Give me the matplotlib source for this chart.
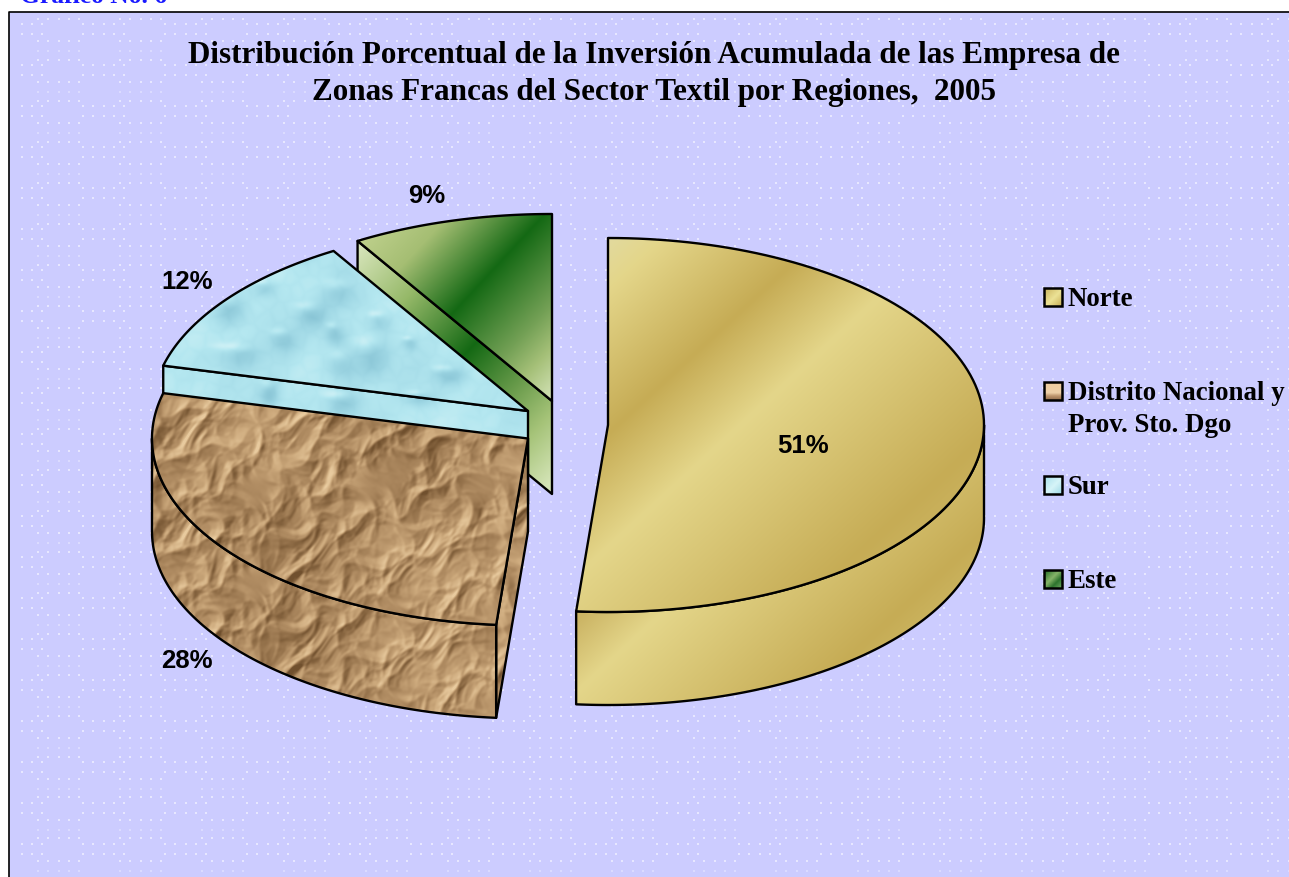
"""
3D looking exploded pie of textile free zone investment by region.
"""
import numpy as np
import matplotlib
matplotlib.use('Agg')
import matplotlib.pyplot as plt
from matplotlib.patches import Polygon, Rectangle

regiones = ['Norte', 'Distrito Nacional y\nProv. Sto. Dgo', 'Sur', 'Este']
shares = [51.35, 27.55, 12.45, 8.65]   # percent, clockwise from 12 o'clock
pct_labels = ['51%', '28%', '12%', '9%']
titulo = ('Distribución Porcentual de la Inversión Acumulada de las Empresa de\n'
          'Zonas Francas del Sector Textil por Regiones,  2005')

W, H = 1289, 878
RX, RY, DEPTH = 376, 187, 93
BG = '#ccccff'

# apex of each exploded slice, in pixels
apex = [(608, 426), (528, 439.5), (528, 412), (552, 402)]
label_pos = [(803, 446), (187, 661), (187, 282), (427, 196)]
legend_y = [298, 392, 486, 580]

XX, YY = np.meshgrid(np.arange(W) + 0.5, np.arange(H) + 0.5)


def hex_stops(s, stops):
    # piecewise colour ramp over the scalar field s
    pos = [p for p, c in stops]
    img = np.zeros(s.shape + (3,))
    for i in range(3):
        img[..., i] = np.interp(s, pos, [c[i] / 255 for p, c in stops])
    return img


def norte_textures():
    s = 0.678 * XX + 0.735 * YY
    dark = (198, 172, 85)
    light = (228, 214, 138)
    top = hex_stops(s, [(590, (226, 218, 158)), (625, light), (732, dark), (815, light),
                        (990, dark), (1100, (212, 192, 112))])
    side = hex_stops(s, [(847, (203, 180, 100)), (900, light), (1060, dark),
                         (1150, (214, 196, 115))])
    return top, side


def este_textures():
    s = 0.73 * XX + 0.68 * YY
    dark = (20, 105, 20)
    top = hex_stops(s, [(427, (190, 208, 140)), (475, (165, 190, 115)), (544, dark),
                        (610, (115, 160, 85)), (640, (165, 192, 120)),
                        (672, (208, 224, 178))])
    side = hex_stops(s, [(432, (214, 228, 185)), (500, (150, 185, 105)), (581, dark),
                         (640, (105, 155, 75)), (684, (165, 195, 120)),
                         (730, (212, 228, 182))])
    return top, side


def cell_hash(a, b, seed):
    v = np.sin(a * 127.1 + b * 311.7 + seed) * 43758.5453
    return v - np.floor(v)


def creases(x, y, c, seed):
    # distance to the nearest cell border of a jittered grid
    ix, iy = np.floor(x / c), np.floor(y / c)
    f1 = np.full(x.shape, 1e9)
    f2 = np.full(x.shape, 1e9)
    for di in (-1, 0, 1):
        for dj in (-1, 0, 1):
            cx, cy = ix + di, iy + dj
            px = (cx + cell_hash(cx, cy, seed)) * c
            py = (cy + cell_hash(cy, cx, seed + 7.3)) * c
            d = np.hypot(x - px, y - py)
            f2 = np.where(d < f1, f1, np.minimum(f2, d))
            f1 = np.minimum(f1, d)
    return np.minimum(f2 - f1, 0.45 * c)


def crumple(x, y):
    # embossed creased paper
    wx = x + 9 * np.sin(y / 23 + 0.7) + 5 * np.sin(y / 11 + x / 17)
    wy = y + 8 * np.sin(x / 19 + 2.1) + 4 * np.sin(x / 9 - y / 13)
    h = 1.2 * creases(wx, wy, 50, 1.0) + 0.9 * creases(wx, wy, 26, 2.0) \
        + 0.55 * creases(wx, wy, 12, 3.0) + 0.2 * creases(wx, wy, 6, 4.0)
    gy, gx = np.gradient(h)
    shade = -(gx + 0.8 * gy)
    # small box blur so the facets do not alias
    for axis in (0, 1):
        shade = (np.roll(shade, 1, axis) + shade + np.roll(shade, -1, axis)) / 3
    shade = shade / np.percentile(np.abs(shade), 97)
    lump = 0.18 * np.sin(x / 61 + y / 43) + 0.14 * np.sin(y / 29 - x / 37)
    return hex_stops(shade + lump, [(-1.4, (112, 80, 46)), (-0.6, (150, 115, 76)),
                                    (0.0, (178, 142, 100)), (0.6, (205, 170, 125)),
                                    (1.4, (232, 202, 158))])


def water(x, y):
    # pale blue surface with a few soft droplets
    shade = 0.40 + 0.07 * np.sin(x / 23 + y / 31) + 0.06 * np.sin(y / 13 - x / 37) \
        + 0.05 * np.sin(x / 7 + y / 11) + 0.07 * creases(x, y, 16, 5.0) / 7
    drops = [(342, 297, 20, 17), (313, 317, 18, 14), (240, 358, 30, 14), (283, 342, 15, 13),
             (335, 335, 11, 12), (372, 360, 20, 23), (380, 323, 13, 11), (230, 313, 18, 18),
             (343, 370, 16, 20), (450, 377, 19, 11), (343, 405, 20, 13), (270, 395, 10, 14),
             (420, 400, 16, 9), (265, 290, 13, 10), (410, 345, 8, 8), (300, 255, 9, 8)]
    for cx, cy, rx, ry in drops:
        d = ((x - cx) / rx) ** 2 + ((y - cy) / ry) ** 2
        hi = ((x - cx + rx * 0.35) / (rx * 0.6)) ** 2 + ((y - cy + ry * 0.75) / (ry * 0.32)) ** 2
        shade = shade - 0.6 * np.exp(-d * 1.1) + 0.45 * np.exp(-hi)
    return hex_stops(shade, [(-0.4, (135, 195, 212)), (0.05, (160, 216, 229)),
                             (0.45, (180, 231, 240)), (0.95, (218, 245, 248))])


def swatch(stops, vertical=False):
    t = np.linspace(0, 1, 24)
    u, v = np.meshgrid(t, t)
    return hex_stops(v if vertical else (u + v) / 2, stops)


def arc(a, t0, t1, dy=0, n=120):
    t = np.radians(np.linspace(t0, t1, n))
    return np.column_stack([a[0] + RX * np.sin(t), a[1] - RY * np.cos(t) + dy])


def rim_point(a, t, dy=0):
    t = np.radians(t)
    return [a[0] + RX * np.sin(t), a[1] - RY * np.cos(t) + dy]


def face(ax, verts, tex, z):
    verts = np.asarray(verts)
    im = ax.imshow(tex, extent=(0, W, H, 0), origin='upper', interpolation='nearest',
                   aspect='auto', zorder=z)
    im.set_clip_path(Polygon(verts, closed=True, transform=ax.transData))
    ax.add_patch(Polygon(verts, closed=True, fill=False, edgecolor='black', lw=1.7,
                         joinstyle='round', zorder=z + 0.1))


fig = plt.figure(figsize=(W / 100, H / 100), dpi=100)
ax = fig.add_axes([0, 0, 1, 1])
ax.axis('off')

ax.add_patch(Rectangle((9, 12.5), W, H, facecolor=BG, edgecolor='none', zorder=0))

# dotted wallpaper of the plot area
dot_x, dot_y, dash_x, dash_y = [], [], [], []
for tile_x in np.arange(-82, W, 82):
    for tile_y in np.arange(0, H, 41):
        for k in range(5):
            xa = tile_x + 38 + k * 10.3
            xb = tile_x + 83 + k * 10.3
            for r in (19.5, 41.7):
                dot_x.append(xa)
                dot_y.append(tile_y + r)
            dash_x.append(xa)
            dash_y.append(tile_y + 51.7)
            for r in (25.3, 35.3):
                dot_x.append(xb)
                dot_y.append(tile_y + r)
dot_x, dot_y = np.array(dot_x), np.array(dot_y)
dash_x, dash_y = np.array(dash_x), np.array(dash_y)
keep = (dot_x > 12) & (dot_y > 15)
ax.scatter(dot_x[keep], dot_y[keep], s=1.5, marker='s', color='white', alpha=0.55,
           linewidths=0, zorder=0.5)
keep = (dash_x > 12) & (dash_y > 15)
ax.scatter(dash_x[keep], dash_y[keep], s=1.2, marker='s', color='white', alpha=0.3,
           linewidths=0, zorder=0.5)
# frame runs off the right and bottom edges
ax.plot([W + 5, 9, 9], [12.5, 12.5, H + 5], color='black', lw=1.2, zorder=0.6)

# slice boundaries come from the shares
edges = np.concatenate([[0], np.cumsum(shares)]) * 3.6

norte_top, norte_side = norte_textures()
este_top, este_side = este_textures()
brown = crumple(XX, YY)
brown_side = crumple(XX, YY - DEPTH)
sur = water(XX, YY)

# Este, at the back
a = apex[3]
t0, t1 = edges[3], edges[4]
face(ax, [a, rim_point(a, t0), rim_point(a, t0, DEPTH), [a[0], a[1] + DEPTH]], este_side, 1)
face(ax, np.vstack([[a], arc(a, t0, t1)]), este_top, 1.2)

# Sur
a = apex[2]
t0, t1 = edges[2], edges[3]
face(ax, [a, rim_point(a, t0), rim_point(a, t0, DEPTH), [a[0], a[1] + DEPTH]], sur, 2)
face(ax, np.vstack([[a], arc(a, t0, t1)]), sur, 2.2)

# Distrito Nacional
a = apex[1]
t0, t1 = edges[1], edges[2]
face(ax, [a, rim_point(a, t0), rim_point(a, t0, DEPTH), [a[0], a[1] + DEPTH]], brown_side, 3)
face(ax, np.vstack([arc(a, t0, 270), arc(a, t0, 270, DEPTH)[::-1]]), brown_side, 3.2)
face(ax, np.vstack([[a], arc(a, t0, t1)]), brown, 3.4)

# Norte, in front
a = apex[0]
t0, t1 = edges[0], edges[1]
face(ax, np.vstack([arc(a, 90, t1), arc(a, 90, t1, DEPTH)[::-1]]), norte_side, 4)
face(ax, np.vstack([[a], arc(a, t0, t1)]), norte_top, 4.2)

for txt, (x, y) in zip(pct_labels, label_pos):
    ax.text(x, y, txt, family='Liberation Sans', fontweight='bold', fontsize=18.5,
            ha='center', va='center', color='black', zorder=6)

ax.text(654, 74, titulo, family='Liberation Serif', fontweight='bold', fontsize=22.45,
        ha='center', va='center', linespacing=1.37, color='black', zorder=6)
ax.text(20, 3, 'Gráfico No. 6', family='Liberation Serif', fontweight='bold', fontsize=18.4,
        ha='left', va='baseline', color='#1a1aff', zorder=6)

swatches = [
    swatch([(0, (200, 178, 92)), (0.55, (236, 226, 150)), (1, (198, 174, 88))]),
    swatch([(0, (238, 204, 160)), (0.6, (238, 208, 168)), (0.78, (190, 150, 110)),
            (1, (150, 112, 80))], vertical=True),
    swatch([(0, (165, 222, 234)), (0.55, (214, 244, 248)), (1, (160, 218, 230))]),
    swatch([(0, (30, 105, 35)), (0.45, (135, 180, 105)), (0.7, (45, 115, 45)),
            (1, (105, 165, 95))]),
]
for i, reg in enumerate(regiones):
    y = legend_y[i]
    ax.imshow(swatches[i], extent=(1044, 1062, y + 9, y - 9), origin='upper', aspect='auto',
              interpolation='bilinear', zorder=6)
    ax.add_patch(Rectangle((1044, y - 9), 18, 18, fill=False, edgecolor='black', lw=1.8, zorder=6.1))
    lines = reg.split('\n')
    ax.text(1068, y + 2, lines[0], family='Liberation Serif', fontweight='bold', fontsize=19.4,
            ha='left', va='center', zorder=6)
    if len(lines) > 1:
        ax.text(1068, y + 34, lines[1], family='Liberation Serif', fontweight='bold', fontsize=19.4,
                ha='left', va='center', zorder=6)

ax.set_xlim(0, W)
ax.set_ylim(H, 0)
fig.savefig('out.png', dpi=100, facecolor='white')
